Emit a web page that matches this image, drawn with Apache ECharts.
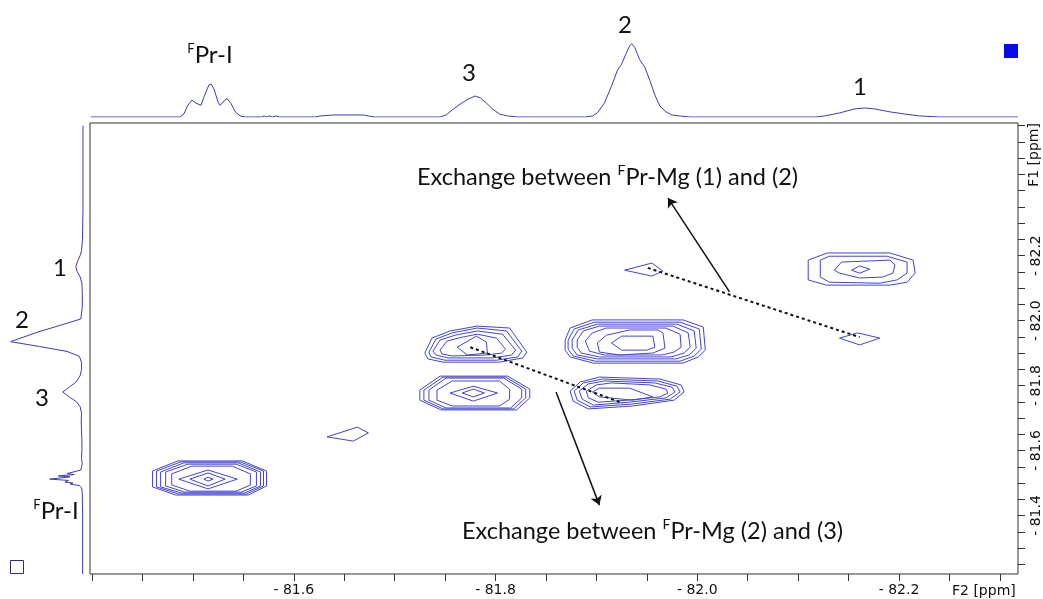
<!DOCTYPE html>
<html>
<head>
<meta charset="utf-8">
<script src="https://cdn.jsdelivr.net/npm/echarts@6/dist/echarts.min.js"></script>
<style>
  html, body { margin: 0; padding: 0; background: #fff; }
  #chart { width: 1043px; height: 599px; }
</style>
</head>
<body>
<div id="chart"></div>
<script>
// 19F-19F EXSY spectrum, chemical shifts in ppm (F2 horizontal, F1 vertical)

const F2_TICKS = [-81.40, -81.45, -81.50, -81.55, -81.60, -81.65, -81.70, -81.75, -81.80, -81.85,
  -81.90, -81.95, -82.00, -82.05, -82.10, -82.15, -82.20, -82.25, -82.30];
const F2_LABELS = [-81.6, -81.8, -82.0, -82.2];
const F1_TICKS = [-81.25, -81.30, -81.35, -81.40, -81.45, -81.50, -81.55, -81.60, -81.65, -81.70,
  -81.75, -81.80, -81.85, -81.90, -81.95, -82.00, -82.05, -82.10, -82.15, -82.20,
  -82.25, -82.30, -82.35, -82.40, -82.45, -82.50, -82.55, -82.60];
const F1_LABELS = [-81.4, -81.6, -81.8, -82.0, -82.2];

// 1D projection along F2: [shift, intensity]
const F2_PROJECTION = [
  [-81.399, 0], [-81.487, 0], [-81.491, 4], [-81.495, 16], [-81.499, 23], [-81.503, 19], [-81.508, 16],
  [-81.512, 31], [-81.516, 44], [-81.518, 45], [-81.521, 38], [-81.525, 20], [-81.527, 16], [-81.531, 22],
  [-81.534, 25], [-81.538, 18], [-81.542, 7], [-81.547, 1.4], [-81.552, 0], [-81.568, 0], [-81.571, 1.4],
  [-81.573, 0], [-81.576, 1.4], [-81.579, 0], [-81.582, 1.4], [-81.586, 0], [-81.621, 0], [-81.626, 1.4],
  [-81.639, 2.7], [-81.669, 2.7], [-81.674, 1.4], [-81.680, 0], [-81.745, 0], [-81.751, 2.7], [-81.757, 9.5],
  [-81.765, 17.7], [-81.773, 24.5], [-81.780, 28.6], [-81.785, 26], [-81.791, 19], [-81.797, 11], [-81.804, 4],
  [-81.812, 1.4], [-81.822, 0], [-81.889, 0], [-81.896, 1.4], [-81.901, 5.5], [-81.908, 19], [-81.915, 42],
  [-81.921, 64], [-81.925, 72], [-81.929, 85], [-81.933, 97], [-81.935, 100], [-81.938, 95], [-81.943, 78],
  [-81.948, 68], [-81.953, 50], [-81.958, 30], [-81.963, 15], [-81.969, 7], [-81.975, 2.7], [-81.983, 1.4],
  [-81.993, 0], [-82.117, 0], [-82.126, 1.4], [-82.141, 5.5], [-82.156, 11], [-82.166, 12.3], [-82.176, 11],
  [-82.191, 7], [-82.206, 4], [-82.221, 1.4], [-82.240, 0], [-82.318, 0]
];

// 1D projection along F1: [shift, intensity]
const F1_PROJECTION = [
  [-82.60, 0], [-82.35, 0], [-82.25, 0.7], [-82.215, 2], [-82.20, 4], [-82.185, 7], [-82.166, 10],
  [-82.15, 8], [-82.135, 4], [-82.115, 1.5], [-82.08, 1], [-82.04, 1], [-82.005, 3], [-81.985, 32],
  [-81.965, 62], [-81.935, 100], [-81.92, 60], [-81.905, 22], [-81.89, 5], [-81.87, 2], [-81.85, 2],
  [-81.83, 4], [-81.81, 10], [-81.795, 19], [-81.78, 28], [-81.765, 19], [-81.75, 9], [-81.735, 4],
  [-81.715, 2], [-81.69, 2.5], [-81.66, 2], [-81.63, 1.5], [-81.60, 1.5], [-81.575, 2], [-81.56, 1],
  [-81.55, 2], [-81.54, 3], [-81.535, 4], [-81.529, 22], [-81.526, 12], [-81.522, 34], [-81.519, 18],
  [-81.512, 46], [-81.508, 20], [-81.503, 25], [-81.500, 14], [-81.497, 18], [-81.492, 5], [-81.485, 2],
  [-81.47, 1], [-81.40, 0.5], [-81.30, 0.5], [-81.22, 0.5]
];

// Contour rings, each a list of [F2, F1] vertices
const CONTOUR_FPR_I = [
  [[-81.460,-81.537],[-81.485,-81.568],[-81.549,-81.568],[-81.573,-81.537],[-81.573,-81.491],[-81.555,-81.463],[-81.483,-81.463],[-81.460,-81.488]],
  [[-81.464,-81.537],[-81.488,-81.565],[-81.547,-81.565],[-81.570,-81.537],[-81.570,-81.491],[-81.553,-81.466],[-81.486,-81.466],[-81.464,-81.488]],
  [[-81.468,-81.534],[-81.491,-81.562],[-81.545,-81.562],[-81.567,-81.534],[-81.567,-81.491],[-81.551,-81.469],[-81.489,-81.469],[-81.468,-81.488]],
  [[-81.473,-81.534],[-81.495,-81.558],[-81.543,-81.558],[-81.563,-81.534],[-81.563,-81.491],[-81.548,-81.472],[-81.492,-81.472],[-81.473,-81.491]],
  [[-81.479,-81.528],[-81.499,-81.552],[-81.539,-81.552],[-81.557,-81.528],[-81.557,-81.494],[-81.543,-81.475],[-81.497,-81.475],[-81.479,-81.494]],
  [[-81.486,-81.512],[-81.515,-81.540],[-81.544,-81.512],[-81.515,-81.482]],
  [[-81.497,-81.512],[-81.515,-81.531],[-81.532,-81.512],[-81.515,-81.491]],
  [[-81.511,-81.512],[-81.515,-81.518],[-81.520,-81.512],[-81.515,-81.506]]
];
const CONTOUR_MINOR = [
  [[-81.633,-81.642],[-81.663,-81.672],[-81.674,-81.654],[-81.659,-81.629]]
];
const CONTOUR_3 = [
  [[-81.725,-81.786],[-81.745,-81.829],[-81.812,-81.829],[-81.834,-81.789],[-81.834,-81.762],[-81.821,-81.725],[-81.746,-81.725],[-81.725,-81.755]],
  [[-81.729,-81.786],[-81.748,-81.826],[-81.810,-81.826],[-81.830,-81.789],[-81.830,-81.762],[-81.818,-81.728],[-81.748,-81.728],[-81.729,-81.755]],
  [[-81.734,-81.786],[-81.751,-81.823],[-81.808,-81.823],[-81.826,-81.789],[-81.826,-81.762],[-81.815,-81.731],[-81.751,-81.731],[-81.734,-81.755]],
  [[-81.742,-81.786],[-81.757,-81.814],[-81.804,-81.814],[-81.814,-81.789],[-81.814,-81.758],[-81.804,-81.737],[-81.757,-81.737],[-81.742,-81.755]],
  [[-81.755,-81.777],[-81.778,-81.798],[-81.802,-81.777],[-81.778,-81.752]],
  [[-81.767,-81.777],[-81.778,-81.789],[-81.789,-81.777],[-81.778,-81.765]]
];
const CONTOUR_3_2 = [
  [[-81.730,-81.900],[-81.737,-81.946],[-81.755,-81.968],[-81.782,-81.983],[-81.814,-81.977],[-81.831,-81.903],[-81.827,-81.885],[-81.804,-81.872],[-81.748,-81.872],[-81.733,-81.882]],
  [[-81.734,-81.903],[-81.741,-81.943],[-81.757,-81.962],[-81.782,-81.977],[-81.811,-81.968],[-81.826,-81.906],[-81.822,-81.888],[-81.801,-81.878],[-81.750,-81.878],[-81.736,-81.888]],
  [[-81.738,-81.906],[-81.745,-81.940],[-81.760,-81.955],[-81.782,-81.968],[-81.807,-81.958],[-81.820,-81.909],[-81.816,-81.894],[-81.797,-81.885],[-81.753,-81.885],[-81.741,-81.894]],
  [[-81.745,-81.909],[-81.752,-81.937],[-81.767,-81.949],[-81.782,-81.958],[-81.801,-81.946],[-81.810,-81.912],[-81.806,-81.900],[-81.791,-81.894],[-81.757,-81.891],[-81.747,-81.897]],
  [[-81.762,-81.918],[-81.781,-81.952],[-81.791,-81.934],[-81.792,-81.900],[-81.772,-81.894]]
];
const CONTOUR_2 = [
  [[-81.869,-81.940],[-81.874,-81.977],[-81.896,-82.002],[-81.986,-82.002],[-82.006,-81.980],[-82.008,-81.909],[-82.001,-81.888],[-81.986,-81.869],[-81.897,-81.869],[-81.874,-81.888],[-81.869,-81.909]],
  [[-81.872,-81.940],[-81.878,-81.974],[-81.898,-81.995],[-81.983,-81.995],[-82.002,-81.974],[-82.004,-81.912],[-81.997,-81.891],[-81.983,-81.875],[-81.899,-81.875],[-81.877,-81.891],[-81.872,-81.912]],
  [[-81.876,-81.940],[-81.882,-81.971],[-81.901,-81.989],[-81.980,-81.989],[-81.997,-81.968],[-81.999,-81.915],[-81.992,-81.894],[-81.979,-81.882],[-81.901,-81.882],[-81.881,-81.894],[-81.876,-81.915]],
  [[-81.881,-81.940],[-81.887,-81.968],[-81.903,-81.983],[-81.976,-81.983],[-81.991,-81.962],[-81.993,-81.918],[-81.987,-81.900],[-81.974,-81.888],[-81.903,-81.888],[-81.885,-81.900],[-81.881,-81.918]],
  [[-81.889,-81.937],[-81.896,-81.962],[-81.910,-81.977],[-81.969,-81.977],[-81.983,-81.958],[-81.984,-81.918],[-81.977,-81.903],[-81.965,-81.894],[-81.908,-81.894],[-81.893,-81.906]],
  [[-81.901,-81.931],[-81.910,-81.955],[-81.933,-81.971],[-81.961,-81.971],[-81.966,-81.962],[-81.968,-81.915],[-81.956,-81.900],[-81.923,-81.894],[-81.903,-81.903]],
  [[-81.915,-81.931],[-81.925,-81.952],[-81.956,-81.952],[-81.958,-81.918],[-81.950,-81.909],[-81.925,-81.909]]
];
const CONTOUR_2_3 = [
  [[-81.874,-81.783],[-81.884,-81.811],[-81.903,-81.826],[-81.963,-81.820],[-81.984,-81.802],[-81.987,-81.780],[-81.977,-81.755],[-81.936,-81.737],[-81.892,-81.728],[-81.877,-81.752]],
  [[-81.878,-81.783],[-81.887,-81.808],[-81.906,-81.820],[-81.961,-81.814],[-81.980,-81.798],[-81.983,-81.780],[-81.973,-81.758],[-81.935,-81.743],[-81.894,-81.734],[-81.881,-81.755]],
  [[-81.883,-81.783],[-81.892,-81.805],[-81.908,-81.814],[-81.958,-81.808],[-81.975,-81.795],[-81.978,-81.780],[-81.969,-81.762],[-81.933,-81.749],[-81.897,-81.740],[-81.886,-81.758]],
  [[-81.890,-81.783],[-81.900,-81.802],[-81.915,-81.808],[-81.953,-81.802],[-81.969,-81.789],[-81.971,-81.777],[-81.963,-81.765],[-81.931,-81.755],[-81.902,-81.749],[-81.892,-81.762]],
  [[-81.896,-81.780],[-81.903,-81.792],[-81.933,-81.792],[-81.956,-81.765],[-81.936,-81.755],[-81.903,-81.765]]
];
const CONTOUR_1 = [
  [[-82.110,-82.186],[-82.129,-82.208],[-82.191,-82.208],[-82.214,-82.186],[-82.216,-82.146],[-82.208,-82.118],[-82.191,-82.109],[-82.128,-82.109],[-82.110,-82.125]],
  [[-82.122,-82.186],[-82.131,-82.198],[-82.188,-82.198],[-82.208,-82.180],[-82.208,-82.146],[-82.198,-82.125],[-82.181,-82.115],[-82.131,-82.118],[-82.122,-82.134]],
  [[-82.136,-82.155],[-82.143,-82.180],[-82.191,-82.186],[-82.196,-82.171],[-82.194,-82.146],[-82.184,-82.134],[-82.161,-82.131],[-82.141,-82.146]],
  [[-82.153,-82.155],[-82.161,-82.168],[-82.171,-82.158],[-82.161,-82.146]]
];
const CONTOUR_1_2 = [
  [[-82.141,-81.946],[-82.159,-81.962],[-82.181,-81.946],[-82.161,-81.925]]
];
const CONTOUR_2_1 = [
  [[-81.928,-82.155],[-81.955,-82.177],[-81.966,-82.152],[-81.955,-82.137]]
];

// Dotted links between exchange cross peaks
const EXCHANGE_LINKS = [
  [[-81.775, -81.918], [-81.926, -81.746]],
  [[-81.951, -82.162], [-82.161, -81.949]]
];
// Arrows pointing at the annotations
const ARROWS = [
  [[-82.032, -82.088], [-81.971, -82.377]],
  [[-81.860, -81.780], [-81.903, -81.432]]
];

const INK = '#3b3bb0';
const CONTOUR_INK = '#4444d4';
const LABEL_FONT = 'Lato, "Open Sans", sans-serif';
const AXIS_FONT = '"DejaVu Sans", sans-serif';

const shiftLabel = v => '- ' + Math.abs(v).toFixed(1);
const closeRing = r => ({ coords: r.concat([r[0]]) });

const allRings = [].concat(CONTOUR_FPR_I, CONTOUR_MINOR, CONTOUR_3, CONTOUR_3_2,
  CONTOUR_2, CONTOUR_2_3, CONTOUR_1, CONTOUR_1_2, CONTOUR_2_1);

const F2_RANGE = { min: -82.318, max: -81.398 };
const F1_RANGE = { min: -82.608, max: -81.22 };

const chart = echarts.init(document.getElementById('chart'));

function peakText(x, y, text) {
  return { type: 'text', x: x, y: y, silent: true,
    style: { text: text, fill: '#111', font: '24px ' + LABEL_FONT, align: 'center', verticalAlign: 'middle' } };
}
function fprText(x, y) {
  return { type: 'text', x: x, y: y, silent: true,
    style: { text: '{s|F}{b|Pr-I}', align: 'center', verticalAlign: 'middle',
      rich: {
        s: { fontSize: 13, fontFamily: LABEL_FONT, fill: '#111', verticalAlign: 'top', lineHeight: 26 },
        b: { fontSize: 24, fontFamily: LABEL_FONT, fill: '#111', lineHeight: 26 }
      } } };
}
function noteText(x, y, before, after) {
  return { type: 'text', x: x, y: y, silent: true,
    style: { text: '{b|' + before + '}{s|F}{b|' + after + '}', align: 'left', verticalAlign: 'middle',
      rich: {
        s: { fontSize: 14, fontFamily: LABEL_FONT, fill: '#111', verticalAlign: 'top', lineHeight: 27 },
        b: { fontSize: 23.5, fontFamily: LABEL_FONT, fill: '#111', lineHeight: 27 }
      } } };
}

chart.setOption({
  animation: false,
  backgroundColor: '#fff',
  grid: [
    { left: 90, right: 25, top: 123, bottom: 25, show: true, borderColor: '#333', borderWidth: 1, backgroundColor: 'transparent' },
    { left: 90, right: 25, top: 40, height: 77 },
    { left: 7, width: 76, top: 123, bottom: 25 }
  ],
  xAxis: [
    { gridIndex: 0, type: 'value', min: F2_RANGE.min, max: F2_RANGE.max, inverse: true, position: 'bottom',
      axisLine: { show: false }, splitLine: { show: false },
      axisTick: { show: true, customValues: F2_TICKS, length: 7, lineStyle: { color: '#333' } },
      axisLabel: { customValues: F2_LABELS, formatter: shiftLabel, margin: 9, fontSize: 14, fontFamily: AXIS_FONT, color: '#111' } },
    { gridIndex: 1, type: 'value', min: F2_RANGE.min, max: F2_RANGE.max, inverse: true, show: false },
    { gridIndex: 2, type: 'value', min: 0, max: 105, inverse: true, show: false }
  ],
  yAxis: [
    { gridIndex: 0, type: 'value', min: F1_RANGE.min, max: F1_RANGE.max, inverse: true, position: 'right',
      axisLine: { show: false }, splitLine: { show: false },
      axisTick: { show: true, customValues: F1_TICKS, length: 7, lineStyle: { color: '#333' } },
      axisLabel: { customValues: F1_LABELS, formatter: shiftLabel, rotate: 90, margin: 11, fontSize: 14, fontFamily: AXIS_FONT, color: '#111' } },
    { gridIndex: 1, type: 'value', min: 0, max: 105, show: false },
    { gridIndex: 2, type: 'value', min: F1_RANGE.min, max: F1_RANGE.max, inverse: true, show: false }
  ],
  series: [
    { type: 'line', name: 'F2 projection', xAxisIndex: 1, yAxisIndex: 1, data: F2_PROJECTION,
      showSymbol: false, symbol: 'none', silent: true, lineStyle: { color: INK, width: 1 } },
    { type: 'line', name: 'F1 projection', xAxisIndex: 2, yAxisIndex: 2,
      data: F1_PROJECTION.map(p => [p[1], p[0]]),
      showSymbol: false, symbol: 'none', silent: true, lineStyle: { color: INK, width: 1 } },
    { type: 'lines', name: 'contours', coordinateSystem: 'cartesian2d', xAxisIndex: 0, yAxisIndex: 0,
      polyline: true, silent: true, data: allRings.map(closeRing),
      lineStyle: { color: CONTOUR_INK, width: 1, opacity: 1 } },
    { type: 'lines', name: 'exchange links', coordinateSystem: 'cartesian2d', xAxisIndex: 0, yAxisIndex: 0,
      silent: true, data: EXCHANGE_LINKS.map(c => ({ coords: c })),
      lineStyle: { color: '#111', width: 2, type: [3, 3], opacity: 1 } },
    { type: 'lines', name: 'arrows', coordinateSystem: 'cartesian2d', xAxisIndex: 0, yAxisIndex: 0,
      silent: true, symbol: ['none', 'arrow'], symbolSize: [0, 9],
      data: ARROWS.map(c => ({ coords: c })),
      lineStyle: { color: '#111', width: 1.5, opacity: 1 } }
  ],
  graphic: [
    peakText(625, 25, '2'),
    peakText(469, 73, '3'),
    peakText(860, 87, '1'),
    fprText(210, 55),
    peakText(60, 268, '1'),
    peakText(22, 320, '2'),
    peakText(42, 398, '3'),
    fprText(56, 511),
    noteText(417, 177, 'Exchange between ', 'Pr-Mg (1) and (2)'),
    noteText(462, 531, 'Exchange between ', 'Pr-Mg (2) and (3)'),
    { type: 'text', x: 952, y: 591, silent: true,
      style: { text: 'F2 [ppm]', font: '14px ' + AXIS_FONT, fill: '#111', align: 'left', verticalAlign: 'middle' } },
    { type: 'text', x: 1034, y: 155, rotation: Math.PI / 2, silent: true,
      style: { text: 'F1 [ppm]', font: '14px ' + AXIS_FONT, fill: '#111', align: 'center', verticalAlign: 'middle' } },
    { type: 'rect', shape: { x: 1004, y: 44, width: 14, height: 14 }, silent: true,
      style: { fill: '#0a0ae6', stroke: null } },
    { type: 'rect', shape: { x: 10.5, y: 560.5, width: 13, height: 13 }, silent: true,
      style: { fill: 'none', stroke: '#2b2b7a', lineWidth: 1 } }
  ]
});
</script>
</body>
</html>
